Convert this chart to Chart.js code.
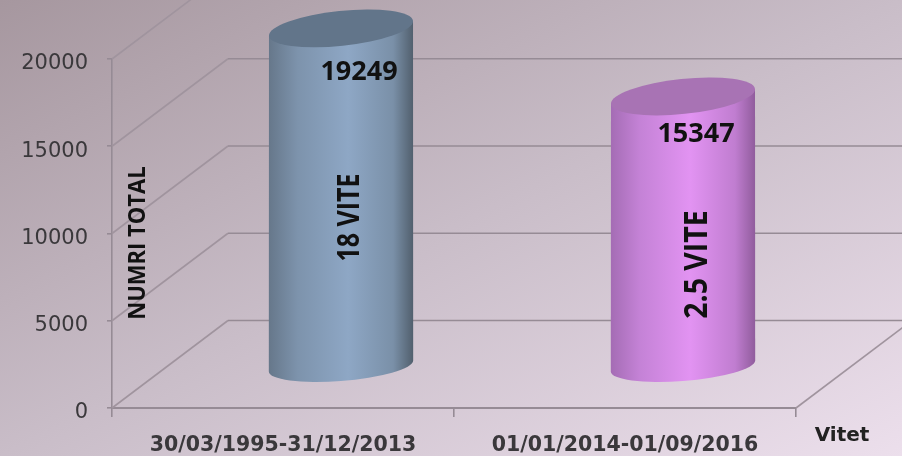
<!DOCTYPE html>
<html lang="sq">
<head>
    <meta charset="UTF-8">
    <title>Numri total</title>
    <style>
        html, body { margin: 0; padding: 0; width: 902px; height: 456px; overflow: hidden; }
        body { background: linear-gradient(to bottom right, #a6979f 0%, #c9bdc8 50%, #ecdfec 100%); }
        canvas { display: block; filter: blur(0.5px); }
    </style>
</head>
<body>
    <canvas id="chart" width="902" height="456"></canvas>

    <script src="https://cdnjs.cloudflare.com/ajax/libs/Chart.js/4.4.1/chart.umd.min.js"></script>
    <script>
        const categories = ['30/03/1995-31/12/2013', '01/01/2014-01/09/2016'];
        const totals = [19249, 15347];
        const barNotes = ['18 VITE', '2.5 VITE'];
        const yTicks = [0, 5000, 10000, 15000, 20000];

        const wallColor = '#968b95';
        const diagonalColor = '#a0949e';
        const textDark = '#3a383b';
        // left edge, half lit, lit part, half lit right, right edge, top cap
        const cylinderColors = [
            ['#66778a', '#7d93ac', '#8ea7c5', '#7a90a8', '#515f6d', '#62758a'],
            ['#a46cb4', '#c482d6', '#e293f2', '#c07dd0', '#905c9c', '#a873b4']
        ];
        // how far the value label sits from the middle of the cylinder / its top
        const valueOffsets = [[18, 44], [13, 38]];
        const noteCenters = [[9, 217.5], [15, 264.5]];
        const noteFonts = [[25, 1.2], [28.5, 1.1]];

        const depthX = 116;
        const depthY = 87.5;
        const capTilt = -6 * Math.PI / 180;
        const capMinor = 17.5;
        const baseTilt = -4.5 * Math.PI / 180;
        const baseMinor = 15;

        function verticalText(ctx, text, x, y, font, stretch) {
            ctx.save();
            ctx.translate(x, y);
            ctx.rotate(-Math.PI / 2);
            ctx.scale(1, stretch);
            ctx.font = font;
            ctx.textAlign = 'center';
            ctx.textBaseline = 'middle';
            ctx.fillStyle = '#111';
            ctx.fillText(text, 0, 0);
            ctx.restore();
        }

        // point where an ellipse edge goes vertical on the right side
        function sideTangent(major, minor, tilt) {
            const t = Math.atan(-(minor / major) * Math.tan(tilt));
            return {
                t,
                x: major * Math.cos(t) * Math.cos(tilt) - minor * Math.sin(t) * Math.sin(tilt),
                y: major * Math.cos(t) * Math.sin(tilt) + minor * Math.sin(t) * Math.cos(tilt)
            };
        }

        // back wall and floor lines, pushed back from the real axes
        const wallPlugin = {
            id: 'wall',
            beforeDatasetsDraw(chart) {
                const { ctx, chartArea, scales } = chart;
                ctx.save();
                ctx.lineWidth = 1.6;
                yTicks.forEach(v => {
                    const y = scales.y.getPixelForValue(v);
                    ctx.strokeStyle = diagonalColor;
                    ctx.beginPath();
                    ctx.moveTo(chartArea.left, y);
                    ctx.lineTo(chartArea.left + depthX, y - depthY);
                    ctx.stroke();
                    ctx.strokeStyle = wallColor;
                    ctx.beginPath();
                    ctx.moveTo(chartArea.left + depthX, y - depthY);
                    ctx.lineTo(chart.width, y - depthY);
                    ctx.stroke();
                });
                ctx.strokeStyle = diagonalColor;
                ctx.beginPath();
                ctx.moveTo(chartArea.right, chartArea.bottom);
                ctx.lineTo(chartArea.right + depthX, chartArea.bottom - depthY);
                ctx.stroke();
                ctx.restore();
                verticalText(ctx, 'NUMRI TOTAL', 138, 243, 'bold 22px "Open Sans"', 1.05);
            }
        };

        // cylinders drawn over the (transparent) bars the library laid out
        const cylinderPlugin = {
            id: 'cylinder',
            afterDatasetsDraw(chart) {
                const ctx = chart.ctx;
                chart.getDatasetMeta(0).data.forEach((bar, i) => {
                    const cx = bar.x + depthX / 2;
                    const top = bar.y - depthY / 2;
                    const bottom = bar.base - depthY / 2 + 2.5;
                    const major = bar.width / 2 + 0.4;
                    const colors = cylinderColors[i];
                    const capEdge = sideTangent(major, capMinor, capTilt);
                    const baseEdge = sideTangent(major, baseMinor, baseTilt);

                    const side = ctx.createLinearGradient(cx - major, 0, cx + major, 0);
                    side.addColorStop(0, colors[0]);
                    side.addColorStop(0.2, colors[1]);
                    side.addColorStop(0.55, colors[2]);
                    side.addColorStop(0.86, colors[3]);
                    side.addColorStop(1, colors[4]);

                    ctx.save();
                    ctx.beginPath();
                    ctx.moveTo(cx - capEdge.x, top - capEdge.y);
                    ctx.lineTo(cx - baseEdge.x, bottom - baseEdge.y);
                    ctx.ellipse(cx, bottom, major, baseMinor, baseTilt, baseEdge.t + Math.PI, baseEdge.t, true);
                    ctx.lineTo(cx + capEdge.x, top + capEdge.y);
                    ctx.closePath();
                    ctx.fillStyle = side;
                    ctx.fill();

                    ctx.beginPath();
                    ctx.ellipse(cx, top, major, capMinor, capTilt, 0, Math.PI * 2);
                    ctx.fillStyle = colors[5];
                    ctx.fill();

                    ctx.font = 'bold 27px "Open Sans"';
                    ctx.textAlign = 'center';
                    ctx.textBaseline = 'middle';
                    ctx.fillStyle = '#111';
                    ctx.fillText(String(totals[i]), cx + valueOffsets[i][0], top + valueOffsets[i][1]);
                    ctx.restore();

                    verticalText(ctx, barNotes[i], cx + noteCenters[i][0], noteCenters[i][1],
                        'bold ' + noteFonts[i][0] + 'px "Open Sans"', noteFonts[i][1]);
                });

                ctx.save();
                ctx.font = 'bold 20px "DejaVu Sans"';
                ctx.textAlign = 'center';
                ctx.textBaseline = 'middle';
                ctx.fillStyle = '#222';
                ctx.fillText('Vitet', 842, 436);
                ctx.restore();
            }
        };

        new Chart(document.getElementById('chart'), {
            type: 'bar',
            data: {
                labels: categories,
                datasets: [{
                    data: totals,
                    backgroundColor: 'rgba(0,0,0,0)',
                    barPercentage: 0.421,
                    categoryPercentage: 1
                }]
            },
            options: {
                responsive: false,
                animation: false,
                layout: { padding: { top: 59, right: 106, left: 0, bottom: 0 } },
                plugins: { legend: { display: false }, tooltip: { enabled: false } },
                scales: {
                    x: {
                        afterFit(scale) { scale.height = 48; },
                        border: { color: wallColor, width: 2 },
                        grid: { drawOnChartArea: false, tickLength: 9, tickColor: wallColor, lineWidth: 1.6 },
                        ticks: {
                            color: textDark,
                            padding: 16,
                            maxRotation: 0,
                            font: { family: '"DejaVu Sans"', size: 20.5, weight: 'bold' }
                        }
                    },
                    y: {
                        min: 0,
                        max: 20000,
                        afterFit(scale) { scale.width = 112; },
                        afterBuildTicks(scale) { scale.ticks = yTicks.map(v => ({ value: v })); },
                        border: { color: wallColor, width: 1.6 },
                        grid: { drawOnChartArea: false, tickLength: 5, tickColor: wallColor, lineWidth: 1.6 },
                        ticks: {
                            color: textDark,
                            padding: 19,
                            labelOffset: 5,
                            callback: v => String(v),
                            font: { family: '"DejaVu Sans"', size: 21 }
                        }
                    }
                }
            },
            plugins: [wallPlugin, cylinderPlugin]
        });
    </script>
</body>
</html>
